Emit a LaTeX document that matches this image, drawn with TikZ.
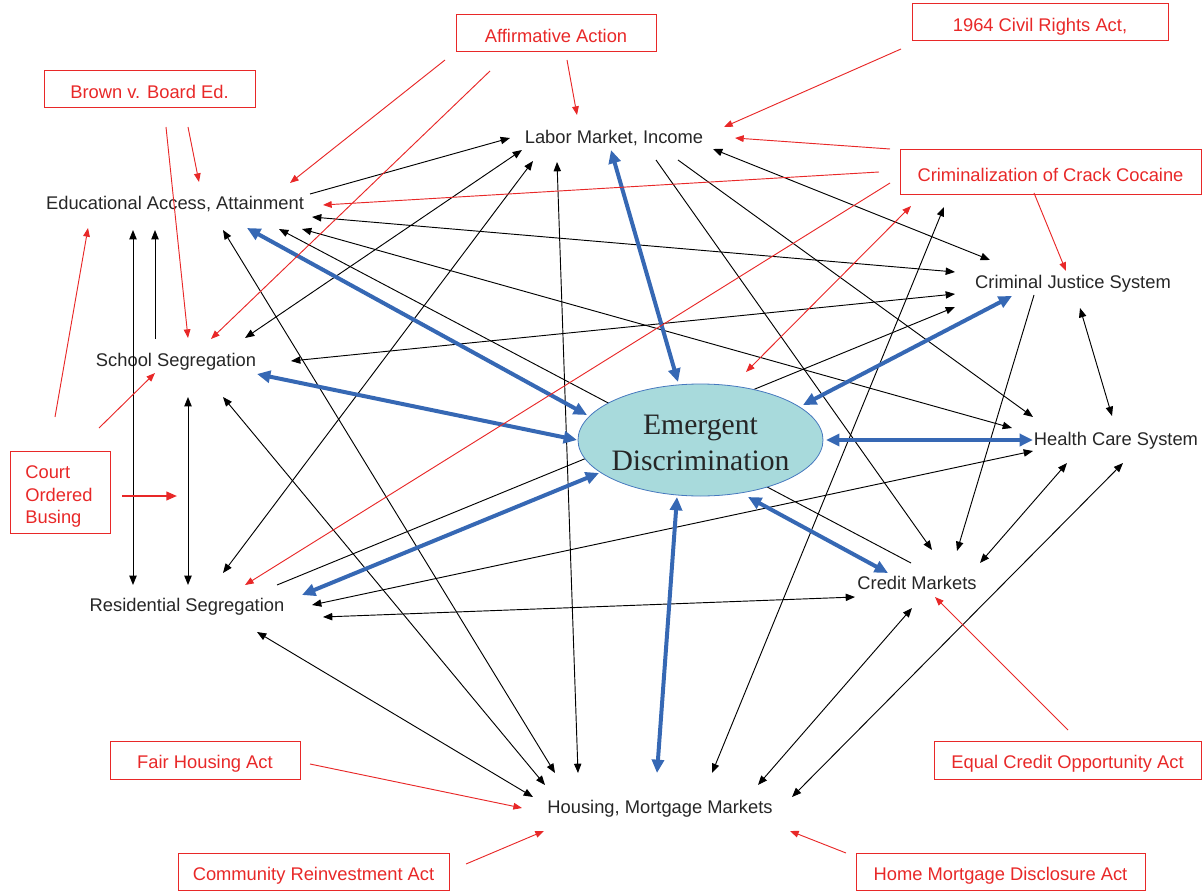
\documentclass[tikz,border=0pt]{standalone}
\usepackage{fontspec}
\setmainfont{Liberation Sans}
\newfontfamily\embfont{Liberation Serif}
\usetikzlibrary{arrows.meta,shapes.geometric}
\definecolor{pred}{RGB}{232,40,40}
\definecolor{pblue}{RGB}{54,104,180}
\definecolor{efill}{RGB}{168,218,220}
\definecolor{eline}{RGB}{70,120,190}
\begin{document}
\begin{tikzpicture}[x=0.75pt,y=-0.75pt,
  lbl/.style={font=\fontsize{13.75}{16}\selectfont, text=black!85, inner sep=0, text height=12.8pt, text depth=0pt},
  pol/.style={draw=pred, line width=0.75pt, text=pred, font=\fontsize{13.75}{16}\selectfont, inner sep=0, minimum height=27.75pt, text height=12.8pt, text depth=0pt},
  poltext/.style={text=pred, inner sep=0, align=left, font=\fontsize{13.75}{17}\selectfont},
  blk/.style={line width=0.7pt, -{Triangle[length=7pt,width=5.5pt]}},
  blk2/.style={line width=0.7pt, {Triangle[length=7pt,width=5.5pt]}-{Triangle[length=7pt,width=5.5pt]}},
  redar/.style={pred, line width=0.7pt, -{Triangle[length=6.5pt,width=5pt]}},
  redar2/.style={pred, line width=0.7pt, {Triangle[length=6.5pt,width=5pt]}-{Triangle[length=6.5pt,width=5pt]}},
  blu/.style={pblue, line width=3pt, {Triangle[length=10pt,width=9pt]}-{Triangle[length=10pt,width=9pt]}}
]
\useasboundingbox (0,0) rectangle (1202,891);

% lines passing behind the ellipse
\draw[blk] (911,563) -- (279,229);
\draw[blk] (277,585) -- (955,307);

% central ellipse
\node[ellipse, draw=eline, line width=0.6pt, fill=efill, inner sep=0,
      minimum width=183.75pt, minimum height=84pt] (em) at (700.5,440) {};
\node[align=center, inner sep=0, font=\embfont\fontsize{22.25}{27}\selectfont, text=black!85] (emtext) at (700.5,443) {Emergent\\Discrimination};

% text nodes
\node[lbl] (lab) at (614,135) {Labor Market, Income};
\node[lbl] (edu) at (175,201) {Educational Access, Attainment};
\node[lbl] (sch) at (176,358) {School Segregation};
\node[lbl] (res) at (187,603) {Residential Segregation};
\node[lbl] (hou) at (660,805) {Housing, Mortgage Markets};
\node[lbl] (cre) at (917,581) {Credit Markets};
\node[lbl] (hea) at (1116,437) {Health Care System};
\node[lbl] (cjs) at (1073,280) {Criminal Justice System};

% policy boxes
\node[pol, minimum width=150pt] (aa) at (556,33.5) {Affirmative Action};
\node[pol, minimum width=192pt] (cra64) at (1040,22.5) {1964 Civil Rights Act,};
\node[pol, minimum width=158.25pt] (brown) at (149.5,89.5) {Brown v. Board Ed.};
\node[pol, minimum width=225.75pt, minimum height=33.75pt] (crack) at (1050.5,172.5) {Criminalization of Crack Cocaine};
\node[draw=pred, line width=0.75pt, minimum width=75pt, minimum height=61.5pt, inner sep=0] (court) at (60,492) {};
\node[poltext] (courttext) at (59,496.5) {Court\\Ordered\\Busing};
\node[pol, minimum width=142.5pt, minimum height=28.5pt] (fha) at (205,760) {Fair Housing Act};
\node[pol, minimum width=203.25pt] (cra) at (313.5,871.5) {Community Reinvestment Act};
\node[pol, minimum width=200.25pt, minimum height=28.5pt] (ecoa) at (1067.5,760) {Equal Credit Opportunity Act};
\node[pol, minimum width=216.75pt] (hmda) at (1000.5,871.5) {Home Mortgage Disclosure Act};

% black connectors
\draw[blk] (310,194) -- (510,138);
\draw[blk2] (245,338) -- (522,150);
\draw[blk2] (223,573) -- (533,161);
\draw[blk2] (578,773) -- (557,162);
\draw[blk2] (223,230) -- (555,773);
\draw[blk2] (223,397) -- (545,785);
\draw[blk2] (257,632) -- (533,797);
\draw[blk2] (302,229) -- (1012,428);
\draw[blk] (656,160) -- (932,550);
\draw[blk] (678,160) -- (1033,417);
\draw[blk2] (713,149) -- (990,260);
\draw[blk2] (312,217) -- (955,272);
\draw[blk2] (291,361) -- (955,294);
\draw[blk2] (712,773) -- (944,207);
\draw[blk] (1034,295) -- (957,551);
\draw[blk2] (1080,308) -- (1112,416);
\draw[blk2] (1067,463) -- (980,563);
\draw[blk2] (1123,463) -- (792,797);
\draw[blk2] (912,608) -- (758,785);
\draw[blk2] (312,605) -- (1033,451);
\draw[blk2] (323,617) -- (855,597);
\draw[blk2] (133,230) -- (133,585);
\draw[blk] (155,339) -- (155,230);
\draw[blk2] (188,397) -- (188,585);

% blue connectors
\draw[blu] (611,150) -- (678,382);
\draw[blu] (247,228) -- (587,415);
\draw[blu] (257,374) -- (577,440);
\draw[blu] (302,595) -- (599,473);
\draw[blu] (677,497) -- (657,773);
\draw[blu] (748,497) -- (888,573);
\draw[blu] (826,440) -- (1033,440);
\draw[blu] (803,405) -- (1012,296);

% red connectors
\draw[redar] (567,60) -- (577,115);
\draw[redar] (445,60) -- (290,183);
\draw[redar] (490,71) -- (211,339);
\draw[redar] (188,127) -- (199,182);
\draw[redar] (166,127) -- (188,338);
\draw[redar] (901,49) -- (724,127);
\draw[redar] (890,149) -- (735,138);
\draw[redar] (879,172) -- (323,205);
\draw[redar] (890,183) -- (245,585);
\draw[redar2] (746,372) -- (911,206);
\draw[redar] (1034,193) -- (1066,271);
\draw[pred, line width=1.5pt, -{Triangle[length=8pt,width=6.5pt]}] (122,496) -- (177,496);
\draw[redar] (99,428) -- (155,373);
\draw[redar] (55,417) -- (88,228);
\draw[redar] (310,764) -- (522,808);
\draw[redar] (466,864) -- (544,831);
\draw[redar] (846,853) -- (790,831);
\draw[redar] (1068,730) -- (935,597);
\end{tikzpicture}
\end{document}
